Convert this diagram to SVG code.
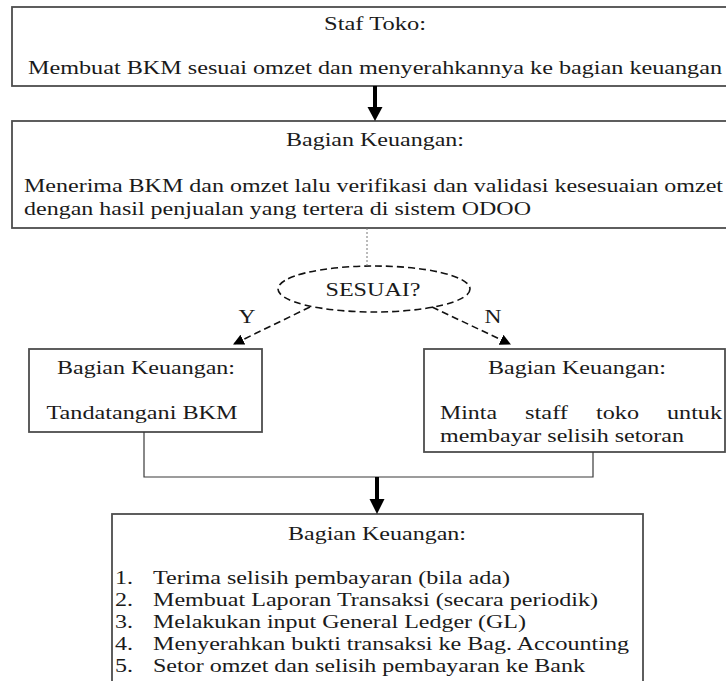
<svg xmlns="http://www.w3.org/2000/svg" width="726" height="681" viewBox="0 0 726 681">
  <style>
    .box { fill: #ffffff; stroke: #4d4d4d; stroke-width: 1.8; }
    .t { font-family: "Liberation Serif", "Times New Roman", Times, serif; font-size: 19px; fill: #1a1a1a; }
    .c { text-anchor: middle; }
    .thin { fill: none; stroke: #3a3a3a; stroke-width: 1.2; }
    .dash { fill: none; stroke: #111111; stroke-width: 1.6; stroke-dasharray: 7 4; }
    .dot { fill: none; stroke: #777777; stroke-width: 1; stroke-dasharray: 2 2; }
    .shaft { fill: none; stroke: #000000; stroke-width: 4; }
    .head { fill: #000000; }
  </style>
  <defs>
    <marker id="tip" viewBox="0 0 10 10" refX="9" refY="5" markerWidth="11" markerHeight="11" markerUnits="userSpaceOnUse" orient="auto">
      <path d="M0,0 L10,5 L0,10 z" fill="#000000"/>
    </marker>
  </defs>
  <rect width="726" height="681" fill="#ffffff"/>

  <!-- Staf Toko -->
  <g id="staf-toko">
    <rect class="box" x="12" y="7" width="726" height="79"/>
    <text class="t c" x="375" y="30" textLength="102" lengthAdjust="spacingAndGlyphs">Staf Toko:</text>
    <text class="t" x="28" y="74" textLength="694" lengthAdjust="spacingAndGlyphs">Membuat BKM sesuai omzet dan menyerahkannya ke bagian keuangan</text>
  </g>

  <!-- Bagian Keuangan: verification -->
  <g id="verifikasi">
    <rect class="box" x="12" y="121" width="726" height="107"/>
    <text class="t c" x="375" y="146" textLength="178" lengthAdjust="spacingAndGlyphs">Bagian Keuangan:</text>
    <text class="t" x="24" y="192" textLength="699" lengthAdjust="spacingAndGlyphs">Menerima BKM dan omzet lalu verifikasi dan validasi kesesuaian omzet</text>
    <text class="t" x="24" y="215" textLength="507" lengthAdjust="spacingAndGlyphs">dengan hasil penjualan yang tertera di sistem ODOO</text>
  </g>

  <!-- Decision -->
  <g id="sesuai">
    <ellipse class="dash" cx="374" cy="289" rx="96" ry="23"/>
    <text class="t c" x="373" y="296" textLength="95" lengthAdjust="spacingAndGlyphs">SESUAI?</text>
  </g>

  <!-- Y branch -->
  <g id="tandatangani">
    <rect class="box" x="29" y="349" width="233" height="83"/>
    <text class="t c" x="146" y="374" textLength="178" lengthAdjust="spacingAndGlyphs">Bagian Keuangan:</text>
    <text class="t c" x="142" y="419" textLength="191" lengthAdjust="spacingAndGlyphs">Tandatangani BKM</text>
  </g>

  <!-- N branch -->
  <g id="minta-selisih">
    <rect class="box" x="424" y="349" width="301" height="103"/>
    <text class="t c" x="577" y="374" textLength="178" lengthAdjust="spacingAndGlyphs">Bagian Keuangan:</text>
    <text class="t" x="440" y="419" textLength="57" lengthAdjust="spacingAndGlyphs">Minta</text>
    <text class="t" x="525" y="419" textLength="43" lengthAdjust="spacingAndGlyphs">staff</text>
    <text class="t" x="596" y="419" textLength="43" lengthAdjust="spacingAndGlyphs">toko</text>
    <text class="t" x="667" y="419" textLength="55" lengthAdjust="spacingAndGlyphs">untuk</text>
    <text class="t" x="440" y="442" textLength="244" lengthAdjust="spacingAndGlyphs">membayar selisih setoran</text>
  </g>

  <!-- Final steps -->
  <g id="penyelesaian">
    <rect class="box" x="112" y="514" width="531" height="190"/>
    <text class="t c" x="377" y="540" textLength="178" lengthAdjust="spacingAndGlyphs">Bagian Keuangan:</text>
    <g class="t">
      <text x="115" y="584" textLength="18" lengthAdjust="spacingAndGlyphs">1.</text>
      <text x="153" y="584" textLength="357" lengthAdjust="spacingAndGlyphs">Terima selisih pembayaran (bila ada)</text>
      <text x="115" y="606" textLength="18" lengthAdjust="spacingAndGlyphs">2.</text>
      <text x="153" y="606" textLength="445" lengthAdjust="spacingAndGlyphs">Membuat Laporan Transaksi (secara periodik)</text>
      <text x="115" y="628" textLength="18" lengthAdjust="spacingAndGlyphs">3.</text>
      <text x="153" y="628" textLength="373" lengthAdjust="spacingAndGlyphs">Melakukan input General Ledger (GL)</text>
      <text x="115" y="650" textLength="18" lengthAdjust="spacingAndGlyphs">4.</text>
      <text x="153" y="650" textLength="476" lengthAdjust="spacingAndGlyphs">Menyerahkan bukti transaksi ke Bag. Accounting</text>
      <text x="115" y="672" textLength="18" lengthAdjust="spacingAndGlyphs">5.</text>
      <text x="153" y="672" textLength="432" lengthAdjust="spacingAndGlyphs">Setor omzet dan selisih pembayaran ke Bank</text>
    </g>
  </g>

  <!-- Connectors -->
  <g id="connectors">
    <line class="shaft" x1="375" y1="86" x2="375" y2="109"/>
    <polygon class="head" points="367.5,107 382.5,107 375,121"/>

    <line class="dot" x1="367" y1="228" x2="367" y2="266"/>

    <line class="dash" x1="310" y1="307" x2="234" y2="344" marker-end="url(#tip)"/>
    <line class="dash" x1="432" y1="307" x2="510" y2="344" marker-end="url(#tip)"/>
    <text class="t c" x="247" y="323" textLength="17" lengthAdjust="spacingAndGlyphs">Y</text>
    <text class="t c" x="493" y="323" textLength="17" lengthAdjust="spacingAndGlyphs">N</text>

    <polyline class="thin" points="144,432 144,477 593,477 593,452"/>
    <line class="shaft" x1="377" y1="477" x2="377" y2="501"/>
    <polygon class="head" points="369.5,499 384.5,499 377,514"/>
  </g>
</svg>
